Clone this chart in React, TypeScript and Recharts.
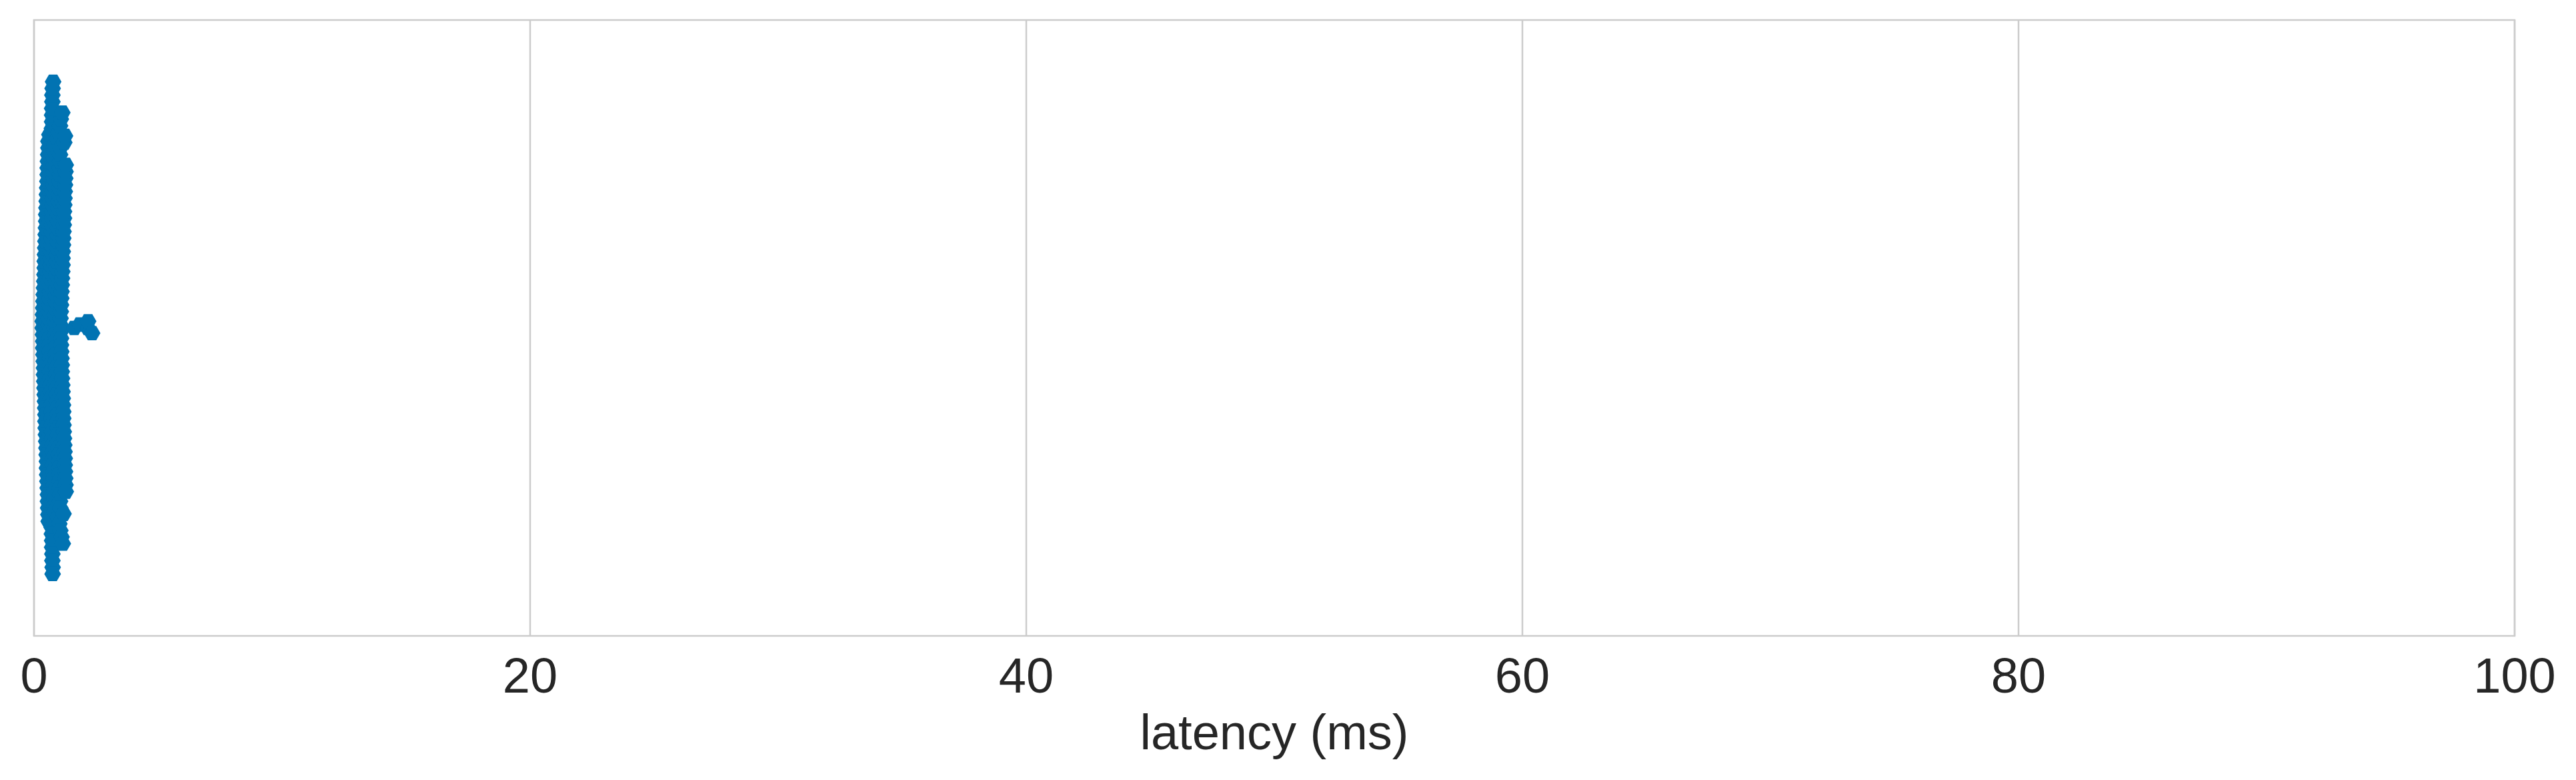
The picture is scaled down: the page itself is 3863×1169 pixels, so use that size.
import React from 'react';
import { ScatterChart, Scatter, XAxis, YAxis, CartesianGrid, ReferenceArea, Label } from 'recharts';

// request latencies (ms), one entry per sample
const latencies = [
  0.35, 0.35, 0.36, 0.36, 0.37, 0.37, 0.37, 0.38, 0.38, 0.39, 0.39, 0.40, 0.40, 0.40,
  0.41, 0.41, 0.42, 0.42, 0.43, 0.43, 0.43, 0.44, 0.44, 0.45, 0.45, 0.46, 0.46, 0.46,
  0.47, 0.47, 0.48, 0.48, 0.49, 0.49, 0.49, 0.50, 0.50, 0.51, 0.51, 0.52, 0.52, 0.52,
  0.53, 0.53, 0.54, 0.54, 0.55, 0.55, 0.55, 0.56, 0.56, 0.56, 0.57, 0.57, 0.58, 0.58, 0.58,
  0.59, 0.59, 0.59, 0.60, 0.60, 0.61, 0.61, 0.61, 0.62, 0.62, 0.62, 0.63, 0.63, 0.64, 0.64, 0.64,
  0.65, 0.65, 0.66, 0.66, 0.67, 0.67, 0.67, 0.68, 0.68, 0.69, 0.69, 0.70, 0.70, 0.70,
  0.71, 0.71, 0.71, 0.72, 0.72, 0.72, 0.72, 0.73, 0.73, 0.73, 0.73, 0.73, 0.73, 0.73,
  0.73, 0.74, 0.74, 0.74, 0.74, 0.74, 0.74, 0.75, 0.75, 0.75, 0.75, 0.75,
  0.76, 0.76, 0.76, 0.77, 0.77, 0.77, 0.78, 0.78, 0.79, 0.79, 0.79,
  0.80, 0.80, 0.81, 0.81, 0.82, 0.82, 0.82, 0.83, 0.83, 0.84, 0.84, 0.85, 0.85, 0.85,
  0.86, 0.86, 0.87, 0.87, 0.88, 0.88, 0.88, 0.89, 0.89, 0.90, 0.90, 0.91, 0.91, 0.91,
  0.92, 0.92, 0.93, 0.93, 0.93, 0.94, 0.94, 0.94, 0.95, 0.95, 0.96, 0.96, 0.96, 0.97, 0.97, 0.97,
  0.98, 0.98, 0.99, 0.99, 0.99, 1.00, 1.00, 1.00, 1.01, 1.01, 1.02, 1.02, 1.02, 1.03, 1.03, 1.03,
  1.04, 1.04, 1.05, 1.05, 1.05, 1.06, 1.06, 1.06, 1.07, 1.07, 1.08, 1.08, 1.08, 1.09, 1.09, 1.09,
  1.10, 1.10, 1.11, 1.11, 1.11, 1.12, 1.12, 1.12, 1.13, 1.13, 1.14, 1.14, 1.14, 1.15, 1.15, 1.15,
  1.16, 1.16, 1.16, 1.17, 1.17, 1.18, 1.18, 1.18, 1.19, 1.19, 1.19, 1.20, 1.20, 1.21, 1.21, 1.21,
  1.22, 1.22, 1.22, 1.23, 1.23, 1.24, 1.24, 1.24, 1.25, 1.25, 1.25, 1.26, 1.26, 1.27, 1.27, 1.28, 1.28,
  1.62, 1.85, 2.17, 2.18, 2.34,
];

const xTicks = [0, 20, 40, 60, 80, 100];
const xLabel = 'latency (ms)';

const WIDTH = 3863;
const HEIGHT = 1169;
const MARGIN = { top: 30, right: 92, left: 51, bottom: 0 };
const AXIS_HEIGHT = 216;
const PLOT_W = WIDTH - MARGIN.left - MARGIN.right;
const PLOT_H = HEIGHT - MARGIN.top - AXIS_HEIGHT;
const X_MAX = 100;
const MARKER_R = 12.5;
const SWARM_D = 10;
const SWARM_HALF = 0.4;
const BLUE = '#0173b2';
const GRID = '#cccccc';
const TEXT = '#262626';
const FONT = '"Liberation Sans", Arial, sans-serif';

// seaborn-style swarm: sort by value, put each point at the free spot closest to the centre
function beeswarm(values: number[]) {
  const pxPerMs = PLOT_W / X_MAX;
  const order = values.map((_, i) => i).sort((a, b) => values[a] - values[b]);
  const placed: { x: number; y: number }[] = [];
  const out: { latency: number; offset: number }[] = [];
  for (const i of order) {
    const x = values[i] * pxPerMs;
    const near = placed.filter((p) => Math.abs(p.x - x) < SWARM_D);
    const cands = [0];
    near.forEach((p) => {
      const dy = Math.sqrt(SWARM_D * SWARM_D - (p.x - x) * (p.x - x));
      cands.push(p.y + dy, p.y - dy);
    });
    cands.sort((a, b) => Math.abs(a) - Math.abs(b));
    const y =
      cands.find((c) =>
        near.every((p) => (p.x - x) * (p.x - x) + (p.y - c) * (p.y - c) >= SWARM_D * SWARM_D - 1e-6)
      ) ?? 0;
    placed.push({ x, y });
    const off = Math.max(-SWARM_HALF, Math.min(SWARM_HALF, y / PLOT_H));
    out.push({ latency: values[i], offset: off });
  }
  return out;
}

const swarmData = beeswarm(latencies);

const Hexagon = (props: any) => {
  const { cx, cy } = props;
  const r = MARKER_R;
  const h = (Math.sqrt(3) / 2) * r;
  const pts = [
    [cx - r, cy],
    [cx - r / 2, cy - h],
    [cx + r / 2, cy - h],
    [cx + r, cy],
    [cx + r / 2, cy + h],
    [cx - r / 2, cy + h],
  ]
    .map((p) => p.join(','))
    .join(' ');
  return <polygon points={pts} fill={BLUE} />;
};

export default function App() {
  return (
    <div style={{ position: 'absolute', left: 0, top: 0, background: '#fff' }}>
      <ScatterChart width={WIDTH} height={HEIGHT} margin={MARGIN}>
        <CartesianGrid horizontal={false} stroke={GRID} strokeWidth={2.5} />
        <XAxis
          type="number"
          dataKey="latency"
          domain={[0, X_MAX]}
          ticks={xTicks}
          height={AXIS_HEIGHT}
          axisLine={false}
          tickLine={false}
          tickMargin={26}
          tick={{ fill: TEXT, fontSize: 74, fontFamily: FONT }}
        >
          <Label
            value={xLabel}
            position="insideBottom"
            offset={46}
            style={{ fill: TEXT, fontSize: 74, fontFamily: FONT }}
          />
        </XAxis>
        <YAxis type="number" dataKey="offset" domain={[-0.5, 0.5]} hide />
        <ReferenceArea
          x1={0}
          x2={X_MAX}
          y1={-0.5}
          y2={0.5}
          fill="none"
          fillOpacity={0}
          stroke={GRID}
          strokeWidth={2.5}
        />
        <Scatter data={swarmData} shape={Hexagon} isAnimationActive={false} />
      </ScatterChart>
    </div>
  );
}
